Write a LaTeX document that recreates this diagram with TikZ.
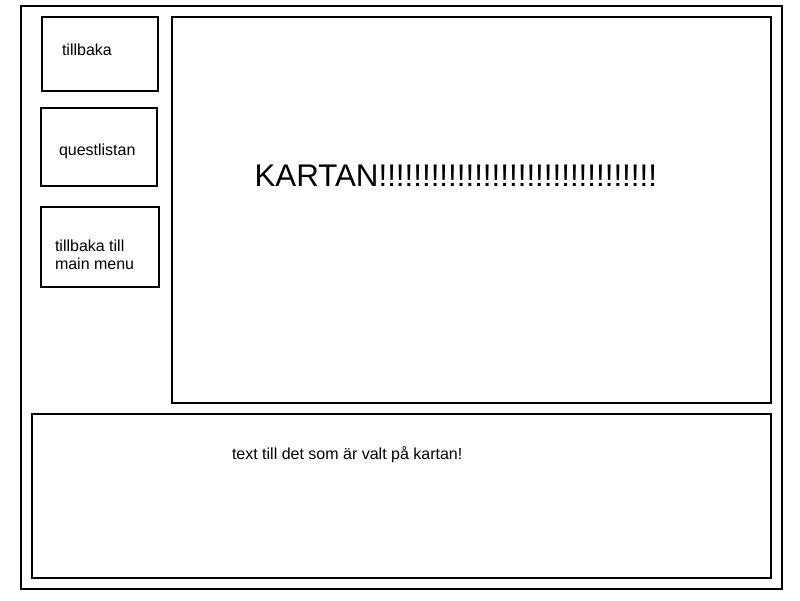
\documentclass[tikz,border=0pt]{standalone}
\usepackage{fontspec}
\setmainfont{Liberation Sans}

\begin{document}
\begin{tikzpicture}[x=1pt,y=-1pt,line width=2pt,
  lbl/.style={anchor=west,inner sep=0pt,font=\fontsize{16}{18}\selectfont}]
  \useasboundingbox (0,0) rectangle (800,600);
  \draw (21,6) rectangle (782,589);
  \draw (42,17) rectangle (158,91);
  \draw (41,108) rectangle (157,186);
  \draw (41,207) rectangle (159,287);
  \draw (172,17) rectangle (771,403);
  \draw (32,414) rectangle (771,578);
  \node[lbl] (back) at (61,50) {tillbaka};
  \node[lbl] (quest) at (58,151) {questlistan};
  \node[lbl,align=left] (mainmenu) at (54,255) {tillbaka till\\main menu};
  \node[lbl,font=\fontsize{31.3}{36}\selectfont] (map) at (253.5,176) {KARTAN!!!!!!!!!!!!!!!!!!!!!!!!!!!!!!!!};
  \node[lbl] (info) at (231,455) {text till det som är valt på kartan!};
\end{tikzpicture}
\end{document}
